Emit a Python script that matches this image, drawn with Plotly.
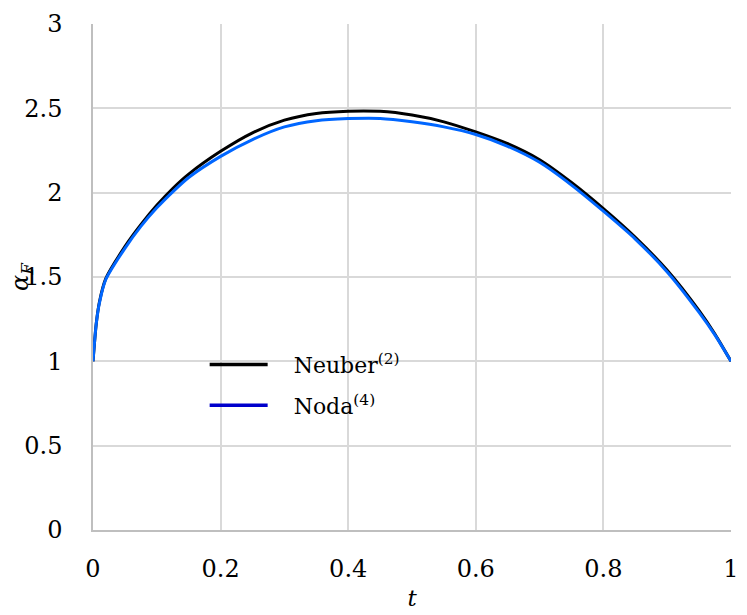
import plotly.graph_objects as go

t = [0, 0.005, 0.01, 0.02, 0.05, 0.075, 0.1, 0.125, 0.15, 0.2, 0.25, 0.3, 0.35, 0.4,
     0.45, 0.5, 0.55, 0.6, 0.65, 0.7, 0.75, 0.8, 0.85, 0.9, 0.95, 0.975, 1.0]
neuber = [1.0, 1.22, 1.35, 1.49, 1.68, 1.81, 1.925, 2.025, 2.11, 2.245, 2.355, 2.43, 2.47, 2.483,
          2.482, 2.46, 2.42, 2.36, 2.29, 2.195, 2.06, 1.905, 1.735, 1.54, 1.30, 1.16, 1.0]
noda = [1.0, 1.22, 1.345, 1.485, 1.67, 1.80, 1.91, 2.005, 2.09, 2.215, 2.315, 2.39, 2.427, 2.439,
        2.44, 2.42, 2.39, 2.345, 2.275, 2.18, 2.045, 1.89, 1.725, 1.53, 1.29, 1.155, 1.0]

x_ticks = [0, 0.2, 0.4, 0.6, 0.8, 1]
y_ticks = [0, 0.5, 1, 1.5, 2, 2.5, 3]

FONT = "DejaVu Serif"

fig = go.Figure()
fig.add_trace(go.Scatter(x=t, y=neuber, mode="lines",
                         line=dict(color="#000000", width=3, shape="spline", smoothing=0.7),
                         showlegend=False, hoverinfo="skip"))
fig.add_trace(go.Scatter(x=t, y=noda, mode="lines",
                         line=dict(color="#0066FF", width=3, shape="spline", smoothing=0.7),
                         showlegend=False, hoverinfo="skip"))
fig.add_trace(go.Scatter(x=[None], y=[None], mode="lines", line=dict(color="#000000", width=3.5),
                         name="\u00a0\u00a0\u00a0Neuber<sup>(2)</sup>", legendgroup="a"))
fig.add_trace(go.Scatter(x=[None], y=[None], mode="lines", line=dict(color="#0000CC", width=3.5),
                         name="\u00a0\u00a0\u00a0Noda<sup>(4)</sup>", legendgroup="b"))

fig.update_layout(
    width=747, height=615,
    margin=dict(l=93, r=8, t=24, b=83),
    paper_bgcolor="white", plot_bgcolor="white",
    font=dict(family=FONT, size=23, color="black"),
    legend=dict(x=0.175, y=0.286, xanchor="left", yanchor="middle", bgcolor="rgba(0,0,0,0)",
                font=dict(family=FONT, size=22), itemwidth=58, tracegroupgap=9),
    xaxis=dict(range=[0, 1], tickvals=x_ticks, ticktext=[f"{v:g}" for v in x_ticks],
               showgrid=True, gridcolor="#d9d9d9", gridwidth=1.5,
               showline=True, linecolor="#bfbfbf", linewidth=1.5,
               zeroline=False, ticks="outside", ticklen=16, tickcolor="rgba(0,0,0,0)",
               tickfont=dict(family=FONT, size=24),
               title=dict(text="<i>t</i>", font=dict(family=FONT, size=23), standoff=8)),
    yaxis=dict(range=[0, 3], tickvals=y_ticks, ticktext=[f"{v:g}" for v in y_ticks],
               showgrid=True, gridcolor="#d9d9d9", gridwidth=1.5,
               showline=True, linecolor="#bfbfbf", linewidth=1.5,
               zeroline=False, ticks="outside", ticklen=24, tickcolor="rgba(0,0,0,0)",
               tickfont=dict(family=FONT, size=24)),
    annotations=[dict(text="<i>α</i><sub><i>F</i></sub>", xref="paper", yref="paper", x=0, y=0.5,
                      xanchor="center", yanchor="middle", xshift=-72, textangle=-90, showarrow=False,
                      font=dict(family=FONT, size=24))],
)

fig.write_html("out.html")
